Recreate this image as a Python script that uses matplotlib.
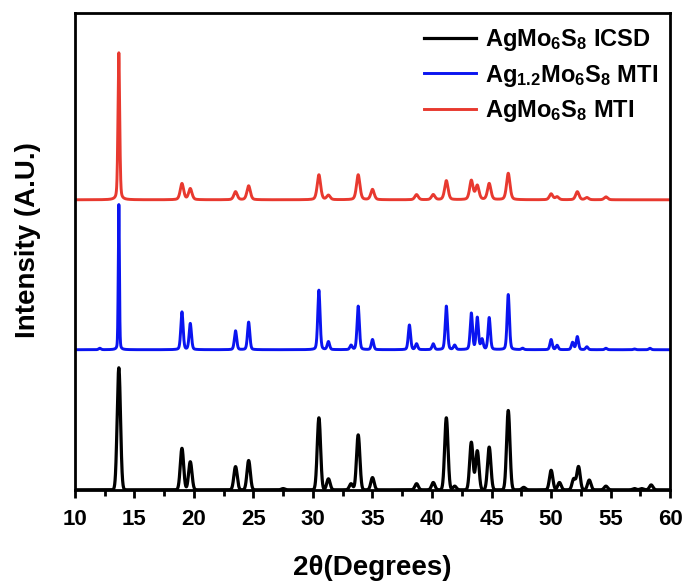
import numpy as np
import matplotlib
matplotlib.use('Agg')
import matplotlib.pyplot as plt
from matplotlib.ticker import MultipleLocator

plt.rcParams['font.family'] = ['Liberation Sans', 'DejaVu Sans']
plt.rcParams['font.weight'] = 'bold'
plt.rcParams['mathtext.default'] = 'regular'

# peak positions (2theta), relative heights
icsd_pos = [13.7, 19.0, 19.7, 23.5, 24.6, 27.5, 30.5, 31.3, 33.2, 33.8, 35.0, 38.7, 40.1,
            41.2, 41.9, 43.3, 43.8, 44.8, 46.4, 47.7, 50.0, 50.7, 51.9, 52.3, 53.2,
            54.6, 57.0, 57.6, 58.4]
icsd_int = [1.00, 0.34, 0.23, 0.19, 0.24, 0.01, 0.59, 0.09, 0.05, 0.45, 0.10, 0.05, 0.06,
            0.59, 0.03, 0.39, 0.32, 0.35, 0.65, 0.02, 0.16, 0.06, 0.09, 0.19, 0.08,
            0.03, 0.01, 0.01, 0.04]

mti12_pos = [12.1, 13.7, 19.0, 19.7, 23.5, 24.6, 30.5, 31.3, 33.2, 33.8, 35.0, 38.1, 38.7,
             40.1, 41.2, 41.9, 43.3, 43.8, 44.2, 44.8, 46.4, 47.6, 50.0, 50.5, 51.8,
             52.2, 53.0, 54.6, 57.0, 58.3]
mti12_int = [0.01, 1.00, 0.26, 0.18, 0.13, 0.19, 0.41, 0.055, 0.03, 0.30, 0.07, 0.17, 0.04,
             0.04, 0.30, 0.03, 0.25, 0.22, 0.07, 0.22, 0.38, 0.01, 0.07, 0.03, 0.05,
             0.09, 0.02, 0.01, 0.005, 0.01]

mti_pos = [13.7, 19.0, 19.7, 23.5, 24.6, 30.5, 31.3, 33.8, 35.0, 38.7, 40.1, 41.2,
           43.3, 43.8, 44.8, 46.4, 50.0, 50.5, 52.2, 53.0, 54.6]
mti_int = [1.00, 0.11, 0.075, 0.055, 0.095, 0.17, 0.03, 0.17, 0.07, 0.035, 0.035, 0.13,
           0.13, 0.095, 0.11, 0.18, 0.04, 0.02, 0.055, 0.015, 0.02]

offsets = [0.0, 1.148, 2.377]
scales = [1.0, 1.19, 1.205]
widths = [0.14, 0.10, 0.15]
labels = [r'AgMo$_6$S$_8$ ICSD', r'Ag$_{1.2}$Mo$_6$S$_8$ MTI', r'AgMo$_6$S$_8$ MTI']
colors = ['black', '#0a14f0', '#e8392f']
lws = [2.3, 2.1, 2.1]


def pattern(x, pos, amp, w, lor):
    y = np.zeros_like(x)
    for p, a in zip(pos, amp):
        # main reflection is sharper than the rest in the measured scans
        ww = w * 0.5 if p == 13.7 and lor > 0 else w
        g = np.exp(-0.5 * ((x - p) / ww) ** 2)
        l = 1.0 / (1.0 + ((x - p) / ww) ** 2)
        y += a * ((1 - lor) * g + lor * l)
    return y


x = np.linspace(10, 60, 6001)

fig = plt.figure(figsize=(6.86, 5.81), dpi=100)
ax = fig.add_axes([0.109, 0.157, 0.868, 0.821])

data = [(icsd_pos, icsd_int, 0.0), (mti12_pos, mti12_int, 0.3), (mti_pos, mti_int, 0.4)]
for i, (pos, amp, lor) in enumerate(data):
    y = pattern(x, pos, amp, widths[i], lor)
    ax.plot(x, offsets[i] + scales[i] * y, color=colors[i], lw=lws[i], label=labels[i])

ax.set_xlim(10, 60)
ax.set_ylim(0, 3.91)
ax.xaxis.set_major_locator(MultipleLocator(5))
ax.xaxis.set_minor_locator(MultipleLocator(2.5))
ax.set_yticks([])
ax.tick_params(axis='x', which='major', direction='out', length=6, width=2, labelsize=16, pad=8)
ax.tick_params(axis='x', which='minor', direction='out', length=4, width=2)
for s in ax.spines.values():
    s.set_linewidth(2)

ax.set_xlabel('2θ(Degrees)', fontsize=20, fontweight='bold', labelpad=18)
ax.set_ylabel('Intensity (A.U.)', fontsize=20, fontweight='bold')
ax.yaxis.set_label_coords(-0.057, 0.524)

ax.legend(loc='upper right', bbox_to_anchor=(1.008, 1.004), frameon=False, fontsize=17,
          handlelength=2.2, handletextpad=0.4, labelspacing=0.39, borderaxespad=0.3)

fig.savefig('out.png', dpi=100)
